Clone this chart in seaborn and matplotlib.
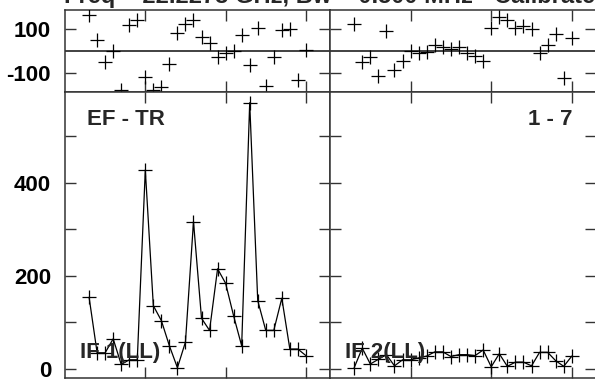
import matplotlib
matplotlib.use("Agg")
import matplotlib.pyplot as plt
import seaborn as sns
import pandas as pd

sns.set_theme(style="white")
plt.rcParams['font.family'] = ['Liberation Sans', 'DejaVu Sans']
plt.rcParams['font.weight'] = 'bold'

# sample index along the time axis (same for both IFs)
times = [0, 1, 2, 3, 4, 5, 6, 7, 8, 9, 10, 11, 12, 13,
         14, 15, 16, 17, 18, 19, 20, 21, 22, 23, 24, 25, 26, 27]

# IF 1 (LL)
if1_phase = [164, 50, -52, 0, -175, 118, 141, -117, -175, -165, -59, 80, 121, 141,
             62, 35, -26, -11, 0, 73, -64, 103, -158, -26, 95, 100, -132, 5]
if1_amp = [154, 35, 35, 65, 10, 20, 20, 427, 136, 104, 50, 3, 58, 316,
           109, 83, 215, 184, 114, 50, 571, 147, 83, 83, 152, 43, 43, 29]

# IF 2 (LL)
if2_phase = [123, -48, -26, -112, 91, -86, -45, 0, -8, -6, 27, 17, 8, 20,
             -11, -21, -45, 106, 152, 141, 106, 115, 100, -11, 27, 76, -124, 61]
if2_amp = [3, 45, 11, 21, 31, 7, 20, 20, 24, 28, 37, 37, 27, 31,
           31, 29, 41, 5, 33, 6, 15, 15, 7, 36, 36, 18, 6, 28]

x_ticks = [7, 17, 27]
phase_ticks = [-100, 100]
phase_labels = ["-100", "100"]
amp_ticks = [0, 100, 200, 300, 400, 500]
amp_labels = ["0", "", "200", "", "400", ""]
corner_labels = ["EF - TR", "1 - 7"]
if_labels = ["IF 1(LL)", "IF 2(LL)"]
title = "Freq = 22.2273 GHz, Bw = 0.500 MHz - Calibrated"

W, H = 595, 380
fig = plt.figure(figsize=(W / 100, H / 100), dpi=100)

def fr(x0, y0, x1, y1):
    return [x0 / W, 1 - y1 / H, (x1 - x0) / W, (y1 - y0) / H]

panels = [
    (fr(65, 10, 330, 92), fr(65, 92, 330, 378), if1_phase, if1_amp, True),
    (fr(330, 10, 596, 92), fr(330, 92, 596, 378), if2_phase, if2_amp, False),
]

FS = 16
for i, (rt, rb, ph, amp, first) in enumerate(panels):
    axp = fig.add_axes(rt)
    axa = fig.add_axes(rb)
    dfp = pd.DataFrame({"t": times, "v": ph})
    dfa = pd.DataFrame({"t": times, "v": amp})

    axp.axhline(0, color="#333333", lw=1.3, zorder=1)
    sns.scatterplot(data=dfp, x="t", y="v", marker="+", s=110, color="black",
                    linewidth=0.9, ax=axp, zorder=3, legend=False)
    sns.lineplot(data=dfa, x="t", y="v", marker="+", markersize=10,
                 markeredgewidth=0.9, markeredgecolor="black", color="black",
                 lw=0.9, ax=axa, sort=False, estimator=None, legend=False)

    axp.set_ylim(-186, 186)
    axa.set_ylim(-19, 594)
    for ax in (axp, axa):
        ax.set_xlim(-3, 30)
        ax.set_xticks(x_ticks)
        ax.set_xticklabels([])
        ax.set_xlabel("")
        ax.set_ylabel("")
        ax.set_facecolor("white")
        for s in ax.spines.values():
            s.set_color("#333333")
            s.set_linewidth(1.1)
            s.set_visible(True)
        ax.tick_params(axis="both", which="both", direction="in", length=8,
                       width=1, color="#333333", top=True, bottom=True,
                       left=True, right=True, labelsize=FS, pad=10,
                       labelcolor="black")
        ax.grid(False)
    axp.set_yticks(phase_ticks)
    axa.set_yticks(amp_ticks)
    if first:
        axp.set_yticklabels(phase_labels, fontweight="bold")
        axa.set_yticklabels(amp_labels, fontweight="bold")
    else:
        axp.set_yticklabels([])
        axa.set_yticklabels([])

    axa.text((80 - 65) / 265 if first else (345 - 330) / 266, (378 - 358) / 286,
             if_labels[i], transform=axa.transAxes, fontsize=FS,
             fontweight="bold", ha="left", va="baseline", zorder=5)
    if first:
        axa.text((87 - 65) / 265, (378 - 125) / 286, corner_labels[0],
                 transform=axa.transAxes, fontsize=FS, fontweight="bold",
                 ha="left", va="baseline")
    else:
        axa.text((572 - 330) / 266, (378 - 125) / 286, corner_labels[1],
                 transform=axa.transAxes, fontsize=FS, fontweight="bold",
                 ha="right", va="baseline")

fig.text(64 / W, 1 - 3 / H, title, fontsize=17, fontweight="bold",
         ha="left", va="baseline")

fig.savefig("out.png", dpi=100, facecolor="white")
